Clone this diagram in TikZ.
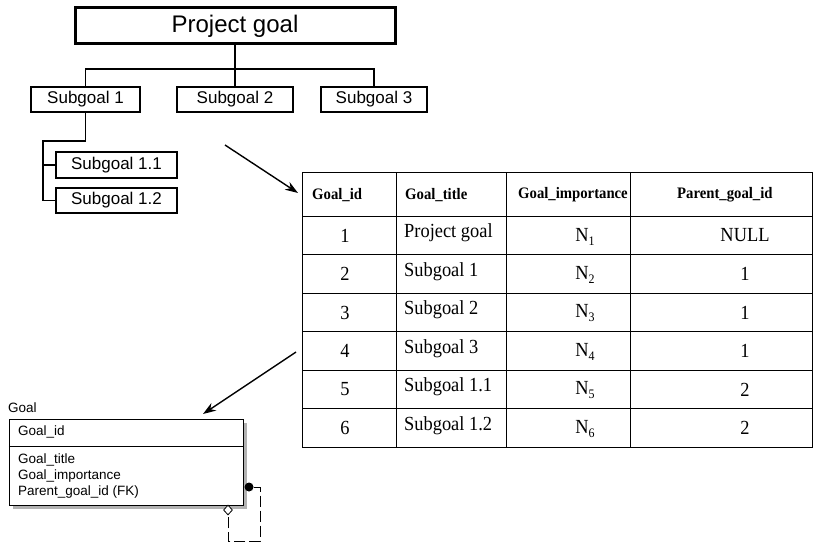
\documentclass[tikz,border=0pt]{standalone}
\usepackage{fontspec}
\setmainfont{Liberation Serif}
\newfontfamily\arialfont{Liberation Sans}
\newfontfamily\tablefont[FakeStretch=0.92]{Liberation Serif}
\usetikzlibrary{arrows.meta,backgrounds,positioning,shapes.geometric}
\newcommand{\impsub}[1]{\raisebox{-4pt}{\fontsize{13}{13}\selectfont #1}}

\begin{document}
\begin{tikzpicture}
    [x=1pt,y=-1pt,
    goalbox/.style={rectangle,draw=black,line width=1.6pt,inner sep=0pt,
    minimum height=25pt,font=\arialfont\fontsize{17}{17}\selectfont},
    mainbox/.style={goalbox,line width=3pt,minimum height=36pt,
    font=\arialfont\fontsize{24}{24}\selectfont},
    tree/.style={line width=1.8pt},
    pointer/.style={line width=1.4pt,-{Stealth[length=13pt,width=9pt]}},
    head/.style={anchor=west,inner sep=0pt,font=\tablefont\fontsize{16}{16}\selectfont\bfseries},
    cell/.style={inner sep=0pt,font=\tablefont\fontsize{20}{20}\selectfont},
    erfont/.style={anchor=west,inner sep=0pt,align=left,
    font=\arialfont\fontsize{13.5}{16}\selectfont}]
    \useasboundingbox (0,0) rectangle (834,543);
    % goal tree
    \node (project goal) [mainbox,minimum width=320pt] at (235,26) {Project goal};
    \node (subgoal 1) [goalbox,minimum width=109pt] at (85.5,99.5) {Subgoal 1};
    \node (subgoal 2) [goalbox,minimum width=116pt] at (235,99.5) {Subgoal 2};
    \node (subgoal 3) [goalbox,minimum width=106pt] at (374,99.5) {Subgoal 3};
    \node (subgoal 11) [goalbox,minimum width=121pt,minimum height=26pt] at (116.5,165) {Subgoal 1.1};
    \node (subgoal 12) [goalbox,minimum width=121pt] at (116.5,200.5) {Subgoal 1.2};
    \coordinate (bus) at (235,69);
    \coordinate (elbow) at (43,141);
    \draw[tree] (project goal) -- (bus);
    \draw[tree] (bus) -| (subgoal 1);
    \draw[tree] (bus) -| (subgoal 3);
    \draw[tree] (bus) -- (subgoal 2);
    \draw[tree] (subgoal 1) |- (elbow) |- (subgoal 12);
    \draw[tree] (elbow |- subgoal 11) -- (subgoal 11);
    % table
    \draw[line width=1pt] (302,172) rectangle (812,447);
    \foreach \x in {396,506,630}
        \draw (\x,172) -- (\x,447);
    \foreach \y in {216,254.5,...,408.5}
        \draw (302,\y) -- (812,\y);
    \node (head id) [head] at (312,195) {Goal\_id};
    \node (head title) [head] at (405,195) {Goal\_title};
    \node (head imp) [head] at (518,195) {Goal\_importance};
    \node (head parent) [head] at (677,195) {Parent\_goal\_id};
    \foreach \t/\p [count=\r] in {Project goal/NULL,Subgoal 1/1,Subgoal 2/1,
        Subgoal 3/1,Subgoal 1.1/2,Subgoal 1.2/2}
    {
        \node (id-\r) [cell] at (345,{197+\r*38.5}) {\r};
        \node (title-\r) [cell,anchor=west] at (404,{194.5+\r*38.5}) {\t};
        \node (imp-\r) [cell] at (585,{198+\r*38.5}) {N\impsub{\r}};
        \node (parent-\r) [cell] at (745,{197+\r*38.5}) {\p};
    }
    \coordinate (from tree) at (225,145);
    \coordinate (to table) at (298,193);
    \coordinate (from table) at (296,352);
    \coordinate (to model) at (203,414);
    \draw[pointer] (from tree) -- (to table);
    \draw[pointer] (from table) -- (to model);
    % data model
    \node (entity name) [erfont] at (8,408) {Goal};
    \node (entity) [draw,fill=white,inner sep=0pt,minimum width=234pt,
        minimum height=86pt] at (126,462) {};
    \begin{scope}[on background layer]
        \fill[gray!60] ([shift={(4,4)}]entity.north west) rectangle ([shift={(4,4)}]entity.south east);
    \end{scope}
    \draw (entity.west |- 0,446) -- (entity.east |- 0,446);
    \node (key) [erfont] at (18,432) {Goal\_id};
    \node (attributes) [erfont] at (18,476) {Goal\_title\\Goal\_importance\\Parent\_goal\_id (FK)};
    \node (fk dot) [circle,fill=black,inner sep=0pt,minimum size=9pt] at (249,487) {};
    \node (optional) [diamond,draw,fill=white,inner sep=0pt,minimum width=9pt,
        minimum height=10pt,line width=0.8pt] at (228,510) {};
    \coordinate (loop corner) at (260,541);
    \draw[line width=1pt,dash pattern=on 11pt off 4pt] (fk dot) -| (loop corner) -| (optional);
\end{tikzpicture}
\end{document}
